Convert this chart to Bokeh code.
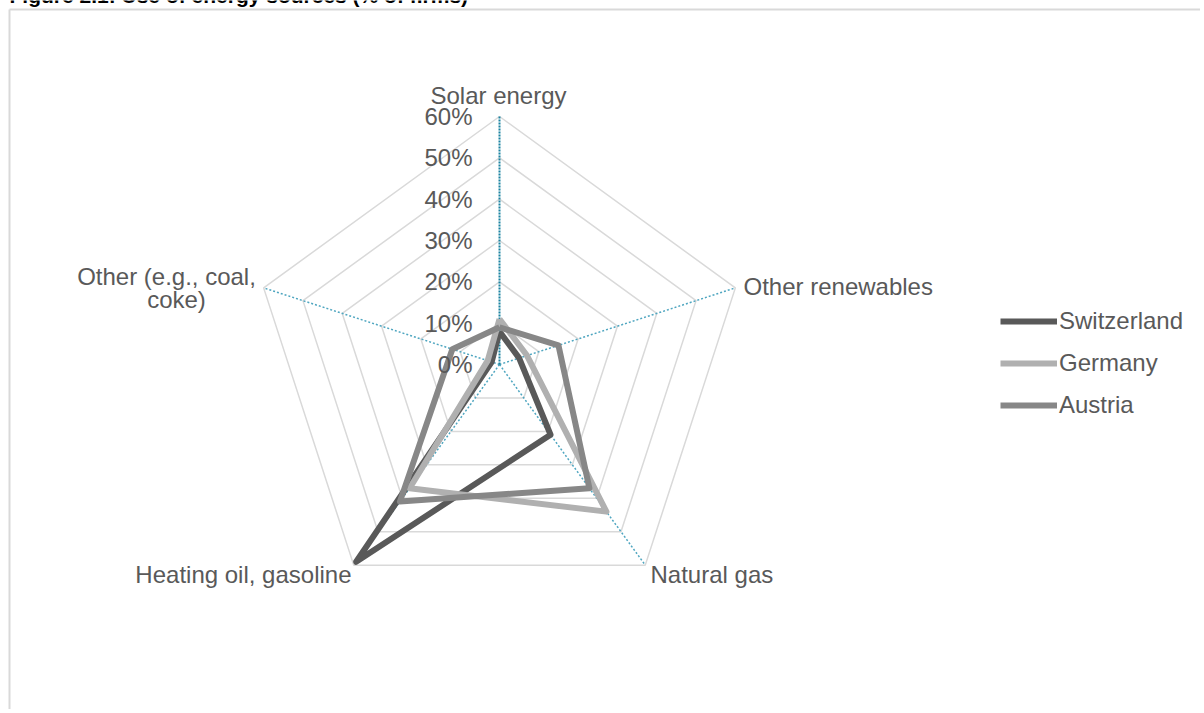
import numpy as np
from bokeh.plotting import figure
from bokeh.models import Range1d, Legend, LegendItem
from bokeh.core.properties import value
from bokeh.embed import file_html
from bokeh.resources import INLINE

# ---------------- data ----------------
categories = ["Solar energy", "Other renewables", "Natural gas",
              "Heating oil, gasoline", "Other (e.g., coal, coke)"]
series_names = ["Switzerland", "Germany", "Austria"]
switzerland = [8, 5, 21, 59, 2]
germany = [11, 7, 44, 37, 3]
austria = [9, 15, 37, 41, 12]
tick_values = [0, 10, 20, 30, 40, 50, 60]
tick_labels = ["0%", "10%", "20%", "30%", "40%", "50%", "60%"]
title_text = "Figure 2.1: Use of energy sources (% of firms)"

# ---------------- layout ----------------
W, H = 1200, 709
PCX, PCY = 499, 364          # page px of radar centre
S = 248 / 60.0               # px per percent
FX0, FY0 = 0, 0              # page px of figure top-left

def dx(px):
    return (px - PCX) / S

def dy(py):
    return (PCY - py) / S

x_range = Range1d(dx(FX0), dx(FX0 + W))
y_range = Range1d(dy(FY0 + H), dy(FY0))

p = figure(width=W, height=H, x_range=x_range, y_range=y_range,
           output_backend="svg", toolbar_location=None, min_border=0)
p.axis.visible = False
p.grid.visible = False
p.outline_line_color = None
p.background_fill_color = "white"

FONT = "Liberation Sans"
TXT = "#595959"
FS = "24px"

n = len(categories)
theta = np.arange(n) * 2 * np.pi / n
sx, sy = np.sin(theta), np.cos(theta)

def poly(vals):
    v = np.asarray(vals, dtype=float)
    xs = list(v * sx) + [v[0] * sx[0]]
    ys = list(v * sy) + [v[0] * sy[0]]
    return xs, ys

# chart border (top + left visible)
p.segment(x0=[dx(9), dx(9)], y0=[dy(9), dy(9)], x1=[dx(1220), dx(9)], y1=[dy(9), dy(730)],
          line_color="#d9d9d9", line_width=2)

# grid rings
rings_x, rings_y = [], []
for t in tick_values[1:]:
    xs, ys = poly([t] * n)
    rings_x.append(xs)
    rings_y.append(ys)
p.multi_line(rings_x, rings_y, line_color="#d9d9d9", line_width=1.5)

# spokes
rmax = tick_values[-1]
p.segment(x0=[0] * (n - 1), y0=[0] * (n - 1), x1=list(rmax * sx[1:]), y1=list(rmax * sy[1:]),
          line_color="#4fa6c0", line_width=1.5, line_dash="2 2")
p.segment(x0=[0], y0=[0], x1=[rmax * sx[0]], y1=[rmax * sy[0]],
          line_color="#1a82a0", line_width=2, line_dash="2 1")

# series
colors = ["#595959", "#b0b0b0", "#878787"]
renderers = []
for name, vals, c in zip(series_names, [switzerland, germany, austria], colors):
    xs, ys = poly(vals)
    r = p.line(xs, ys, line_color=c, line_width=6, line_join="round")
    renderers.append(r)

# tick labels
p.text(x=[dx(472)] * len(tick_values), y=tick_values, text=tick_labels,
       text_font=value(FONT), text_font_size=FS, text_color=TXT,
       text_align="right", text_baseline="middle")

# category labels
cat_x = [dx(498), dx(743), dx(650), dx(351)]
cat_y = [dy(95), dy(286), dy(574), dy(574)]
cat_align = ["center", "left", "left", "right"]
cat_txt = [categories[0], categories[1], categories[2], categories[3]]
p.text(x=cat_x, y=cat_y, text=cat_txt, text_font=value(FONT), text_font_size=FS,
       text_color=TXT, text_align=cat_align, text_baseline="middle")
p.text(x=[dx(166), dx(176)], y=[dy(276), dy(299)], text=["Other (e.g., coal,", "coke)"],
       text_font=value(FONT), text_font_size=FS, text_color=TXT,
       text_align="center", text_baseline="middle")

# title (cut off at the top like the reference)
p.text(x=[dx(9)], y=[dy(-5)], text=[title_text], text_font=value(FONT),
       text_font_size="21px", text_font_style="bold", text_color="#000000",
       text_align="left", text_baseline="alphabetic")

# legend
legend = Legend(items=[LegendItem(label=nm, renderers=[r]) for nm, r in zip(series_names, renderers)],
                location=(1000 - FX0, (FY0 + H) - 419))
legend.label_text_font = FONT
legend.label_text_font_size = FS
legend.label_text_color = TXT
legend.glyph_width = 57
legend.glyph_height = 22
legend.label_height = 22
legend.label_standoff = 2
legend.spacing = 14
legend.padding = 0
legend.margin = 0
legend.border_line_color = None
legend.background_fill_alpha = 0
p.add_layout(legend)

open("out.html", "w").write(file_html(p, INLINE))
